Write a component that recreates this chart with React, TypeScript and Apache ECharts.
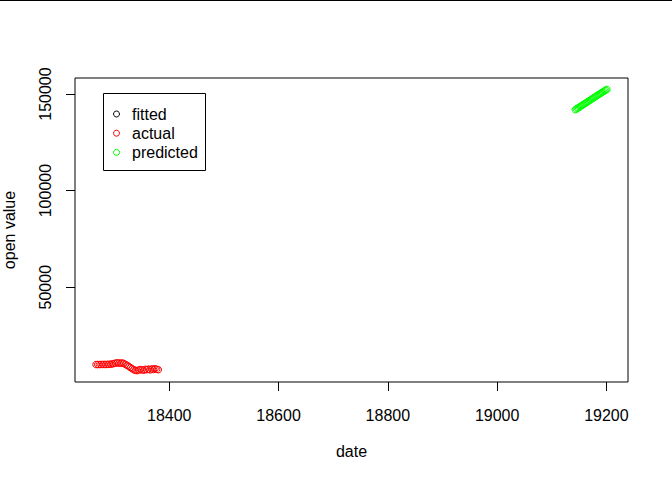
import React, { useEffect, useRef } from "react";
import * as echarts from "echarts";

const legendNames = ["fitted", "actual", "predicted"];
const legendColors = ["#000000", "#FF0000", "#00FF00"];

const fittedDates: number[] = [];
const fittedValues: number[] = [];

const actualDates = [
  18266, 18269, 18272, 18275, 18278, 18281, 18284, 18287, 18290, 18293,
  18296, 18299, 18302, 18305, 18308, 18311, 18314, 18317, 18320, 18323,
  18326, 18329, 18332, 18335, 18338, 18341, 18344, 18347, 18350, 18353,
  18356, 18359, 18362, 18365, 18368, 18371, 18374, 18377, 18380,
];
const actualValues = [
  9950, 9980, 9960, 10010, 9990, 10020, 10000, 10050, 10100, 10150,
  10300, 10500, 10700, 10850, 10750, 10600, 10800, 10500, 10050, 9500,
  9000, 8400, 7800, 7300, 6950, 6800, 7100, 7400, 7200, 7000,
  7500, 7300, 7600, 7200, 7700, 7400, 7800, 7500, 7300,
];

const predictedDates = [
  19143, 19145, 19147, 19149, 19151, 19153, 19155, 19157, 19159, 19161,
  19163, 19165, 19167, 19169, 19171, 19173, 19175, 19177, 19179, 19181,
  19183, 19185, 19187, 19189, 19191, 19193, 19195, 19197, 19199, 19201,
];
const predictedValues = [
  141900, 142200, 142650, 142900, 143300, 143750, 144000, 144400, 144800, 145150,
  145500, 145900, 146200, 146650, 146950, 147400, 147700, 148100, 148500, 148800,
  149250, 149550, 149950, 150300, 150650, 151050, 151350, 151750, 152050, 152400,
];

const xTicks = [18400, 18600, 18800, 19000, 19200];
const yTicks = [50000, 100000, 150000];

const FONT = '"Liberation Sans", Arial, sans-serif';

function pairs(xs: number[], ys: number[]) {
  return xs.map((x, i) => [x, ys[i]]);
}

export default function App() {
  const ref = useRef<HTMLDivElement>(null);
  useEffect(() => {
    if (!ref.current) return;
    const chart = echarts.init(ref.current, null, { renderer: "svg" });
    const seriesData = [
      pairs(fittedDates, fittedValues),
      pairs(actualDates, actualValues),
      pairs(predictedDates, predictedValues),
    ];
    const legendGraphics: any[] = [];
    legendNames.forEach((n, i) => {
      const cy = 114 + i * 19.2;
      legendGraphics.push({
        type: "circle",
        shape: { cx: 116.5, cy, r: 3 },
        style: { fill: "none", stroke: legendColors[i], lineWidth: 1 },
        z: 10,
      });
      legendGraphics.push({
        type: "text",
        x: 132,
        y: cy,
        style: {
          text: n,
          fill: "#000",
          fontSize: 16,
          fontFamily: FONT,
          verticalAlign: "middle",
          align: "left",
        },
        z: 10,
      });
    });
    chart.setOption({
      animation: false,
      backgroundColor: "#fff",
      textStyle: { fontFamily: FONT },
      grid: {
        left: 75,
        top: 78,
        right: 44,
        bottom: 98,
        containLabel: false,
        outerBoundsMode: "none",
        show: true,
        borderColor: "#000",
        borderWidth: 1,
        backgroundColor: "transparent",
      },
      xAxis: {
        type: "value",
        min: 18227.5,
        max: 19239.5,
        name: "date",
        nameLocation: "middle",
        nameGap: 61,
        nameTextStyle: { color: "#000", fontSize: 16, fontFamily: FONT },
        axisLine: { show: false },
        splitLine: { show: false },
        axisTick: {
          show: true,
          inside: false,
          length: 9,
          customValues: xTicks,
          lineStyle: { color: "#000", width: 1 },
        },
        axisLabel: {
          color: "#000",
          fontSize: 16,
          fontFamily: FONT,
          margin: 25,
          customValues: xTicks,
          formatter: (v: number) => String(v),
        },
      },
      yAxis: {
        type: "value",
        min: 930,
        max: 158300,
        name: "open value",
        nameLocation: "middle",
        nameRotate: 90,
        nameGap: 58,
        nameTextStyle: { color: "#000", fontSize: 16, fontFamily: FONT },
        axisLine: { show: false },
        splitLine: { show: false },
        axisTick: {
          show: true,
          inside: false,
          length: 9,
          customValues: yTicks,
          lineStyle: { color: "#000", width: 1 },
        },
        axisLabel: {
          color: "#000",
          fontSize: 16,
          fontFamily: FONT,
          rotate: 90,
          margin: 22,
          customValues: yTicks,
          formatter: (v: number) => String(v),
        },
      },
      series: legendNames.map((n, i) => ({
        type: "scatter",
        name: n,
        data: seriesData[i],
        symbol: "circle",
        symbolSize: 6.5,
        itemStyle: {
          color: "transparent",
          borderColor: legendColors[i],
          borderWidth: 1,
          opacity: 1,
        },
        emphasis: { disabled: true },
      })),
      graphic: [
        {
          type: "line",
          shape: { x1: 0, y1: 0.5, x2: 672, y2: 0.5 },
          style: { stroke: "#000", lineWidth: 1 },
          z: 10,
        },
        {
          type: "rect",
          shape: { x: 103.5, y: 93.5, width: 102, height: 77 },
          style: { fill: "#fff", stroke: "#000", lineWidth: 1 },
          z: 9,
        },
        ...legendGraphics,
      ],
    });
    return () => chart.dispose();
  }, []);
  return (
    <div
      ref={ref}
      style={{ position: "fixed", left: 0, top: 0, width: 672, height: 480 }}
    />
  );
}
